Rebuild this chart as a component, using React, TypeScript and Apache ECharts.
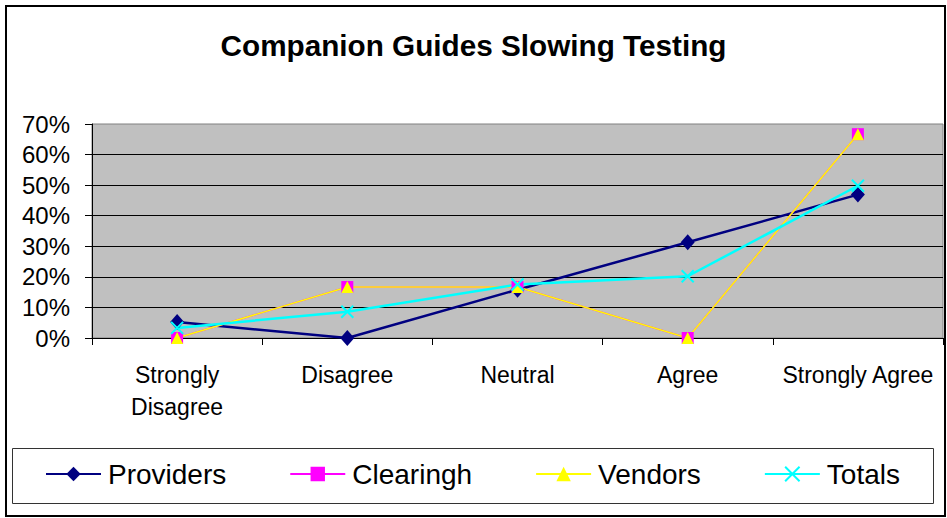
import React, { useEffect, useRef } from "react";
import * as echarts from "echarts";

const categories = ["Strongly\nDisagree", "Disagree", "Neutral", "Agree", "Strongly Agree"];
const providers = [0.052, 0, 0.158, 0.313, 0.469];
const clearingh = [0, 0.1667, 0.1667, 0, 0.6667];
const vendors = [0, 0.1667, 0.1667, 0, 0.6667];
const totals = [0.033, 0.086, 0.175, 0.202, 0.498];
const yTicks = { min: 0, max: 0.7, interval: 0.1 };

const FONT = "'Liberation Sans', Arial, sans-serif";

export default function App() {
  const ref = useRef<HTMLDivElement>(null);
  useEffect(() => {
    if (!ref.current) return;
    const chart = echarts.init(ref.current, null, { renderer: "svg" });
    const xSym = "path://M0,0L10,10M10,0L0,10";
    chart.setOption({
      animation: false,
      backgroundColor: "#ffffff",
      textStyle: { fontFamily: FONT },
      title: {
        text: "Companion Guides Slowing Testing",
        left: "center",
        top: 25,
        textStyle: { fontFamily: FONT, fontSize: 29.7, fontWeight: "bold", color: "#000" },
      },
      grid: {
        left: 92,
        top: 124,
        right: 4,
        bottom: 180,
        show: true,
        backgroundColor: "#C0C0C0",
        borderColor: "#808080",
        borderWidth: 1,
      },
      legend: {
        left: 40,
        top: 455,
        itemWidth: 55,
        itemHeight: 18,
        itemGap: 63,
        textStyle: { fontFamily: FONT, fontSize: 28, color: "#000", padding: [0, 0, 0, 2] },
        data: ["Providers", "Clearingh", "Vendors", "Totals"],
      },
      xAxis: {
        type: "category",
        data: categories,
        boundaryGap: true,
        axisLine: { lineStyle: { color: "#000", width: 1 } },
        axisTick: { show: true, length: 7, lineStyle: { color: "#000" } },
        axisLabel: { fontFamily: FONT, fontSize: 23, lineHeight: 32, color: "#000", margin: 21, interval: 0 },
      },
      yAxis: {
        type: "value",
        min: yTicks.min,
        max: yTicks.max,
        interval: yTicks.interval,
        axisLine: { show: true, lineStyle: { color: "#000", width: 1 } },
        axisTick: { show: true, length: 7, lineStyle: { color: "#000" } },
        axisLabel: {
          fontFamily: FONT,
          fontSize: 24,
          color: "#000",
          margin: 22,
          formatter: (v: number) => Math.round(v * 100) + "%",
        },
        splitLine: { show: true, showMaxLine: false, lineStyle: { color: "#000", width: 1 } },
      },
      series: [
        {
          name: "Providers",
          type: "line",
          data: providers,
          symbol: "diamond",
          symbolSize: [14, 16],
          lineStyle: { color: "#000080", width: 2.5 },
          itemStyle: { color: "#000080" },
        },
        {
          name: "Clearingh",
          type: "line",
          data: clearingh,
          symbol: "rect",
          symbolSize: 12,
          lineStyle: { color: "#FF00FF", width: 1.5 },
          itemStyle: { color: "#FF00FF" },
        },
        {
          name: "Vendors",
          type: "line",
          data: vendors,
          symbol: "triangle",
          symbolSize: 12,
          lineStyle: { color: "#FFFF00", width: 1.5 },
          itemStyle: { color: "#FFFF00" },
        },
        {
          name: "Totals",
          type: "line",
          data: totals,
          symbol: xSym,
          symbolSize: 12,
          lineStyle: { color: "#00FFFF", width: 2.5 },
          itemStyle: { color: "#00FFFF", borderColor: "#00FFFF", borderWidth: 2 },
        },
      ],
      graphic: [
        {
          type: "rect",
          shape: { x: 6, y: 6, width: 939, height: 510 },
          style: { fill: "none", stroke: "#000", lineWidth: 2 },
          silent: true,
        },
        {
          type: "rect",
          shape: { x: 12.5, y: 448.5, width: 921, height: 55 },
          style: { fill: "none", stroke: "#333", lineWidth: 1 },
          silent: true,
        },
      ],
    });
    return () => chart.dispose();
  }, []);
  return (
    <div
      ref={ref}
      style={{ position: "absolute", left: 0, top: 0, width: 947, height: 518, background: "#fff" }}
    />
  );
}
